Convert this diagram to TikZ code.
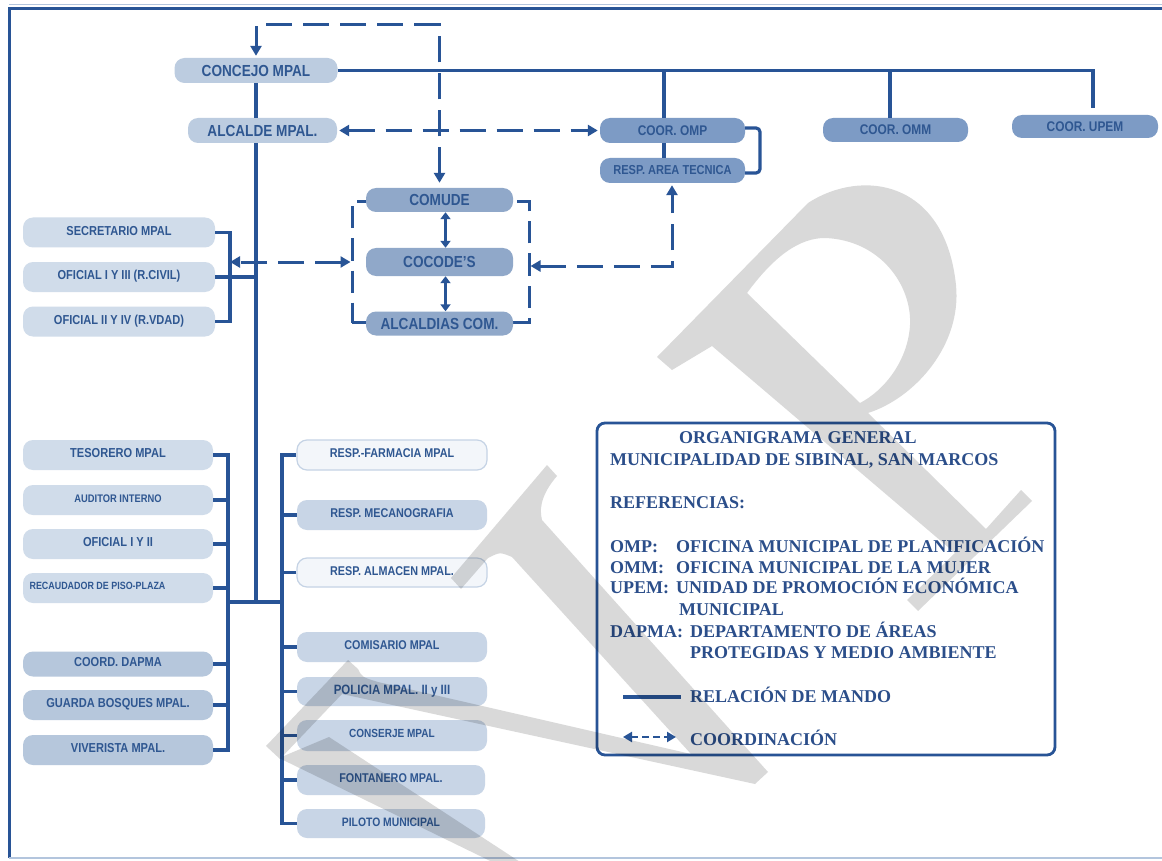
\documentclass[tikz,border=0pt]{standalone}
\usepackage{fontspec}
\usetikzlibrary{arrows.meta}
\newfontfamily\boxfont[FakeStretch=0.85]{Liberation Sans}
\newfontfamily\legfont{Liberation Serif}
\definecolor{lineblue}{HTML}{285496}
\definecolor{txtblue}{HTML}{2F5791}
\definecolor{legtxt}{HTML}{2B4E8A}
\definecolor{cTop}{HTML}{BCCCE0}
\definecolor{cLeft}{HTML}{D0DCEA}
\definecolor{cMid}{HTML}{90A8C9}
\definecolor{cOmp}{HTML}{7D9BC5}
\definecolor{cDap}{HTML}{B6C7DC}
\definecolor{cLR}{HTML}{C8D5E6}
\definecolor{cPale}{HTML}{F3F6FA}
\definecolor{cPaleBd}{HTML}{C5D3E5}
\definecolor{frameLight}{HTML}{B3C5DD}
\newcommand{\txtup}[1]{\raisebox{3.5pt}{#1}}
\tikzset{
  box/.style={rounded corners=10pt, inner sep=0pt, text=txtblue},
  pale/.style={box, fill=cPale, draw=cPaleBd, line width=1.2pt},
  bw/.style={minimum width=#1pt},
  bh/.style={minimum height=#1pt},
  fs/.style={font={\boxfont\bfseries\fontsize{#1}{#1}\selectfont}},
  conn/.style={draw=lineblue, line width=3.2pt},
  dsh/.style={draw=lineblue, line width=3pt, dash pattern=on 26pt off 11pt},
  smallarr/.style={draw=lineblue, line width=2.4pt, <->, >={Triangle[length=7pt,width=10pt]}},
  legt/.style={anchor=base west, inner sep=0pt, text=legtxt, font={\legfont\bfseries\fontsize{18}{18}\selectfont}},
  wmark/.style={fill=black, opacity=0.15}
}
\begin{document}
\begin{tikzpicture}[x=1pt,y=-1pt, >={Triangle[length=10pt,width=11pt]}]
\useasboundingbox (0,0) rectangle (1162,861);
\fill[white] (0,0) rectangle (1162,861);
% frame
\draw[frameLight, line width=1.5pt] (9,4.5) -- (1162,4.5);
\draw[lineblue, line width=2.6pt] (8.3,8.5) -- (1162,8.5);
\draw[lineblue, line width=2.6pt] (9.5,7.5) -- (9.5,858);
\draw[frameLight, line width=2pt] (8.5,858) -- (1162,858);

% helper coordinates
\coordinate (trx) at (256,0);
\coordinate (lb) at (230,0);
\coordinate (llb) at (228,0);
\coordinate (lrb) at (282,0);
\coordinate (jy) at (0,602);
\coordinate (dcy) at (0,25);
\coordinate (vomp) at (664,0);
\coordinate (vomm) at (890,0);
\coordinate (vupem) at (1093,0);
\coordinate (rc) at (672,266);
\coordinate (b1) at (760,128);
\coordinate (b2) at (760,173);

% dashed group around COMUDE / COCODE / ALCALDIAS
\node[draw=lineblue, line width=3pt, dash pattern=on 22pt off 10pt, minimum width=177pt, minimum height=121pt, inner sep=0pt] (grp) at (440.5,262) {};

% top nodes
\node[box, fill=cTop, bw=163, bh=25, fs=16] (concejo) at (256,70.5) {CONCEJO MPAL};
\node[box, fill=cTop, bw=149, bh=25, fs=16] (alcalde) at (262.5,130.5) {ALCALDE MPAL.};
\node[box, fill=cMid, bw=147, bh=24, fs=16] (comude) at (439.5,200) {COMUDE};
\node[box, fill=cMid, bw=147, bh=28, fs=16] (cocode) at (439.5,262) {COCODE’S};
\node[box, fill=cMid, bw=147, bh=24, fs=16] (alcaldias) at (439.5,323.5) {ALCALDIAS COM.};
\node[box, fill=cOmp, bw=145, bh=25, fs=14] (omp) at (672.5,130.5) {COOR. OMP};
\node[box, fill=cOmp, bw=145, bh=25, fs=13] (respat) at (672.5,170.5) {RESP. AREA TECNICA};
\node[box, fill=cOmp, bw=145, bh=24, fs=14] (omm) at (895.5,130) {COOR. OMM};
\node[box, fill=cOmp, bw=146, bh=23, fs=14] (upem) at (1085,126.5) {COOR. UPEM};

% left group
\node[box, fill=cLeft, bw=192, bh=30, fs=13] (secre) at (119,232.5) {\txtup{SECRETARIO MPAL}};
\node[box, fill=cLeft, bw=192, bh=30, fs=13] (ofi1) at (119,277) {\txtup{OFICIAL I Y III (R.CIVIL)}};
\node[box, fill=cLeft, bw=192, bh=30, fs=13] (ofi2) at (119,321.5) {\txtup{OFICIAL II Y IV (R.VDAD)}};

% lower left group
\node[box, fill=cLeft, bw=190, bh=30, fs=13] (tesorero) at (118,455) {\txtup{TESORERO MPAL}};
\node[box, fill=cLeft, bw=190, bh=30, fs=11] (auditor) at (118,500) {\txtup{AUDITOR INTERNO}};
\node[box, fill=cLeft, bw=190, bh=30, fs=13] (ofi12) at (118,544) {\txtup{OFICIAL I Y II}};
\node[box, fill=cLeft, bw=190, bh=30, fs=10.5] (recaud) at (118,588) {\txtup{\hspace*{-41pt}RECAUDADOR DE PISO-PLAZA}};
\node[box, fill=cDap, bw=190, bh=25, fs=13] (dapma) at (118,664) {\txtup{COORD. DAPMA}};
\node[box, fill=cDap, bw=190, bh=30, fs=13] (guarda) at (118,705) {\txtup{GUARDA BOSQUES MPAL.}};
\node[box, fill=cDap, bw=190, bh=30, fs=13] (viverista) at (118,750) {\txtup{VIVERISTA MPAL.}};

% lower right group
\node[pale, bw=190, bh=30, fs=12.7] (farmacia) at (392,455) {\txtup{RESP.-FARMACIA MPAL}};
\node[box, fill=cLR, bw=190, bh=30, fs=12.7] (mecano) at (392,515) {\txtup{RESP. MECANOGRAFIA}};
\node[pale, bw=190, bh=29, fs=12.7] (almacen) at (392,572.5) {\txtup{RESP. ALMACEN MPAL.}};
\node[box, fill=cLR, bw=190, bh=30, fs=12.7] (comisario) at (392,647) {\txtup{COMISARIO MPAL}};
\node[box, fill=cLR, bw=190, bh=29, fs=13.5] (policia) at (392,691.5) {\txtup{POLICIA MPAL. II y III}};
\node[box, fill=cLR, bw=190, bh=31, fs=11.8] (conserje) at (392,735.5) {\txtup{CONSERJE MPAL}};
\node[box, fill=cLR, bw=188, bh=30, fs=12.7] (fontanero) at (391,780) {\txtup{FONTANERO MPAL.}};
\node[box, fill=cLR, bw=188, bh=29, fs=12.2] (piloto) at (391,823.5) {\txtup{PILOTO MUNICIPAL}};

% command lines
\draw[conn] (concejo.south -| trx) -- (alcalde.north -| trx);
\draw[conn] (alcalde.south -| trx) -- (trx |- jy);
\draw[conn] (ofi1.east) -- (ofi1.east -| trx);
\draw[conn] (secre.east) -- (secre.east -| lb) -- (ofi2.east -| lb) -- (ofi2.east);
\draw[conn] (tesorero.east) -- (tesorero.east -| llb) -- (viverista.east -| llb) -- (viverista.east);
\foreach \n in {auditor,ofi12,recaud,dapma,guarda} \draw[conn] (\n.east) -- (\n.east -| llb);
\draw[conn] (llb |- jy) -- (lrb |- jy);
\draw[conn] (farmacia.west) -- (farmacia.west -| lrb) -- (piloto.west -| lrb) -- (piloto.west);
\foreach \n in {mecano,almacen,comisario,policia,conserje,fontanero} \draw[conn] (\n.west) -- (\n.west -| lrb);
\draw[conn] (concejo.east) -- (vupem |- concejo.east) -- ([yshift=7pt]vupem |- upem.north);
\draw[conn] (vomp |- concejo.east) -- (vomp |- omp.north);
\draw[conn] (vomm |- concejo.east) -- (vomm |- omm.north);
\draw[conn] (vomp |- omp.south) -- (vomp |- respat.north);
\draw[conn, rounded corners=4pt] (omp.east |- b1) -- (b1) -- (b2) -- (respat.east |- b2);

% coordination lines
\draw[dsh, <->, shorten <=5pt, shorten >=2pt] (comude.north) -- (comude.north |- dcy) -- (trx |- dcy) -- (trx |- concejo.north);
\draw[dsh, <->, shorten <=2pt, shorten >=2pt] (alcalde.east) -- (omp.west);
\draw[dsh, <->] (grp.west) -- (grp.west -| lb);
\draw[dsh, <->, shorten >=2pt] (grp.east |- rc) -- (rc) -- (rc |- respat.south);
\draw[smallarr] ([xshift=6pt]comude.south) -- ([xshift=6pt]cocode.north);
\draw[smallarr] ([xshift=6pt]cocode.south) -- ([xshift=6pt]alcaldias.north);

% legend
\node[draw=lineblue, line width=2.8pt, rounded corners=8pt, minimum width=458pt, minimum height=332pt, inner sep=0pt] (legend) at (826,589) {};
\node[legt] (lt1) at (679,443) {ORGANIGRAMA GENERAL};
\node[legt] (lt2) at (610,465) {MUNICIPALIDAD DE SIBINAL, SAN MARCOS};
\node[legt] (lt3) at (610,508) {REFERENCIAS:};
\node[legt] (lt4) at (610,552) {OMP:};
\node[legt] (lt5) at (676,552) {OFICINA MUNICIPAL DE PLANIFICACIÓN};
\node[legt] (lt6) at (610,573) {OMM:};
\node[legt] (lt7) at (676,573) {OFICINA MUNICIPAL DE LA MUJER};
\node[legt] (lt8) at (610,593) {UPEM:};
\node[legt] (lt9) at (676,593) {UNIDAD DE PROMOCIÓN ECONÓMICA};
\node[legt] (lt10) at (679,615) {MUNICIPAL};
\node[legt] (lt11) at (610,637) {DAPMA:};
\node[legt] (lt12) at (690,637) {DEPARTAMENTO DE ÁREAS};
\node[legt] (lt13) at (690,658) {PROTEGIDAS Y MEDIO AMBIENTE};
\node[legt] (lt14) at (690,702) {RELACIÓN DE MANDO};
\node[legt] (lt15) at (690,745) {COORDINACIÓN};
\coordinate (ls1) at (623,697);
\coordinate (ls2) at (681,697);
\draw[lineblue, line width=4.5pt] (ls1) -- (ls2);
\coordinate (ld1) at (623,737);
\coordinate (ld2) at (676,737);
\draw[lineblue, line width=2.2pt, dash pattern=on 7pt off 4pt, <->, >={Triangle[length=9pt,width=10pt]}] (ld1) -- (ld2);

% watermark
\fill[wmark] (547,465) -- (557,476) .. controls (545,490) and (538,505) .. (542,520) -- (768,772) -- (755,784) -- (342,694) -- (280,759) -- (266,746) -- (348,660) -- (358,669) .. controls (362,677) .. (378,682) -- (691,754) -- (512,557) .. controls (500,552) .. (488,558) -- (461,589) -- (451,578) -- cycle
  (279,758) -- (329,737) -- (540,875) -- (519,875) -- cycle;
\fill[wmark, even odd rule] (657,357) -- (808,203) .. controls (862,168) and (945,180) .. (956,285) .. controls (962,345) and (915,398) .. (868,413) -- (986,529) -- (1021,490) -- (1032,501) -- (918,611) -- (907,600) -- (955,553) -- (712,346) -- (672,370) -- cycle
  (747,293) .. controls (775,255) and (800,238) .. (825,238) .. controls (880,240) and (912,285) .. (910,325) .. controls (908,360) and (885,390) .. (860,403) -- cycle;
\end{tikzpicture}
\end{document}
